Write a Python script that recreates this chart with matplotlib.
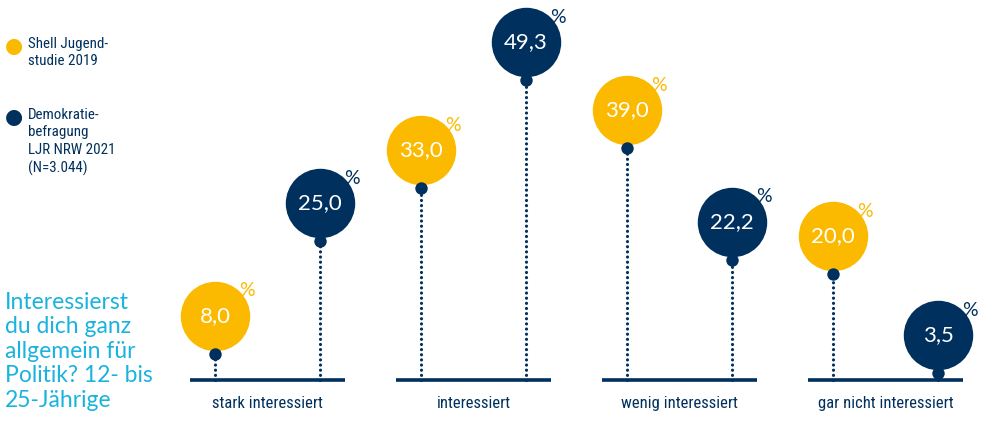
import matplotlib
matplotlib.use("Agg")
import matplotlib.pyplot as plt
import matplotlib.transforms as mtransforms

# Survey data: share of young people (12-25) by interest in politics
categories = ["stark interessiert", "interessiert", "wenig interessiert", "gar nicht interessiert"]
shell_2019 = [8.0, 33.0, 39.0, 20.0]
ljr_2021 = [25.0, 49.3, 22.2, 3.5]
series_labels = ["Shell Jugend-\nstudie 2019", "Demokratie-\nbefragung\nLJR NRW 2021\n(N=3.044)"]
question = "Interessierst\ndu dich ganz\nallgemein für\nPolitik? 12- bis\n25-Jährige"

YELLOW = "#FBBA00"
NAVY = "#00305D"
CYAN = "#1AB3DD"
BASE = 4.0        # level of the drawn ground line
DOT_FLOOR = 5.1   # lollipop heads never sink into the ground line
OFFSET = 0.255    # half spacing between the two series within a group

fig = plt.figure(figsize=(9.87, 4.28), dpi=100)
ax = fig.add_axes([0, 0, 1, 1])
ax.set_xlim(-1.2985, 3.4927)
ax.set_ylim(-3.17, 61.39)
ax.axis("off")

num_font = dict(family=["Lato", "DejaVu Sans"])
cond_font = dict(family=["Roboto Condensed", "Liberation Sans Narrow", "Roboto", "DejaVu Sans"],
                 fontstretch="condensed")

bubble = mtransforms.offset_copy(ax.transData, fig=fig, x=0, y=38, units="dots")
pct = mtransforms.offset_copy(ax.transData, fig=fig, x=32, y=63, units="dots")

for i, cat in enumerate(categories):
    ax.plot([i - 0.375, i + 0.375], [BASE, BASE], color=NAVY, lw=2.6,
            solid_capstyle="butt", zorder=1)
    ax.text(i, 0.5, cat, ha="center", va="center", fontsize=12,
            color=NAVY, **cond_font)
    for x, v, col in ((i - OFFSET, shell_2019[i], YELLOW),
                      (i + OFFSET, ljr_2021[i], NAVY)):
        y = max(v, DOT_FLOOR)
        ax.plot([x, x], [BASE, y], color=NAVY, lw=2.3, ls=(0, (0.01, 1.6)),
                dash_capstyle="round", zorder=2)
        ax.scatter([x], [y], s=2500, color=col, transform=bubble, zorder=3,
                   linewidths=0)
        ax.scatter([x], [y], s=80, color=NAVY, zorder=4, linewidths=0)
        ax.text(x, y, f"{v:.1f}".replace(".", ","), transform=bubble,
                ha="center", va="center", fontsize=16, color="white",
                zorder=5, **num_font)
        ax.text(x, y, "%", transform=pct, ha="center", va="center",
                fontsize=14, color=col, zorder=5, **num_font)

# Legend
leg_y = [46, 117]
for (lab, col, yy) in zip(series_labels, (YELLOW, NAVY), leg_y):
    fig.text(14 / 987, 1 - yy / 428, "●", color=col, fontsize=15,
             ha="center", va="center", family="DejaVu Sans")
    fig.text(28 / 987, 1 - (yy - 9) / 428, lab, color=NAVY, fontsize=10.8,
             ha="left", va="top", linespacing=1.3, **cond_font)

# Question text
fig.text(5 / 987, 1 - 292 / 428, question, color=CYAN, fontsize=16.5,
         ha="left", va="top", linespacing=1.2, family=["Lato", "DejaVu Sans"])

fig.savefig("out.png", dpi=100)
